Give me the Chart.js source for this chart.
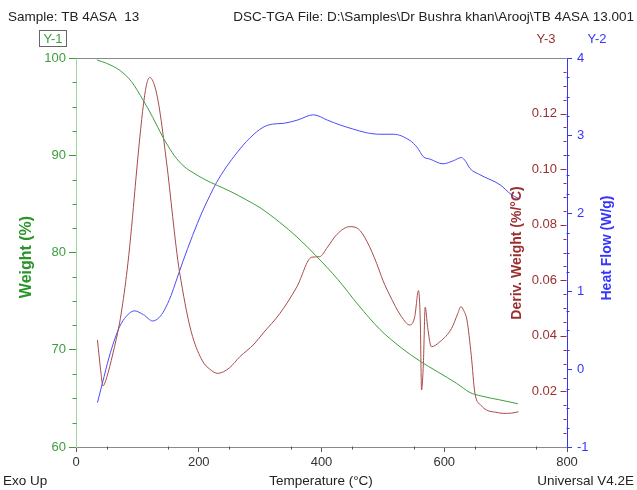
<!DOCTYPE html>
<html>
<head>
<meta charset="utf-8">
<script src="https://cdn.jsdelivr.net/npm/chart.js@4/dist/chart.umd.min.js"></script>
<style>
  html, body { margin: 0; padding: 0; background: #fff; }
  #wrap { width: 637px; height: 490px; }
</style>
</head>
<body>
<div id="wrap"><canvas id="tga" width="637" height="490"></canvas></div>
<script>
// Curva de peso (Y-1)
const weightTemp = [34, 50, 72, 90, 110, 125, 142, 150, 157, 164, 176, 191, 210, 230, 251, 278, 300, 332, 360, 392, 427, 460, 495, 530, 560, 590, 620, 642, 660, 690, 720];
const weightPct  = [99.8, 99.45, 98.7, 97.6, 95.6, 93.9, 91.8, 90.95, 90.25, 89.65, 88.85, 88.2, 87.5, 86.9, 86.3, 85.4, 84.6, 83.1, 81.6, 79.6, 77.2, 74.6, 72.1, 70.2, 68.85, 67.7, 66.55, 65.6, 65.25, 64.85, 64.45];

// Derivada del peso (Y-3)
const derivTemp = [35, 40, 44, 50, 60, 71, 76, 81, 86, 92, 98, 104, 110, 115, 120, 125, 130, 135, 140, 145, 150, 155, 160, 166, 171, 180, 190, 206, 218, 231, 250, 267, 290, 305, 332, 360, 384, 397, 410, 425, 446, 460, 474, 490, 500, 511, 530, 544, 552, 558, 561, 563, 566, 569, 573, 579, 593, 612, 622, 627, 632, 637, 644, 650, 660, 669, 684, 696, 710, 721];
const derivVal  = [0.0385, 0.028, 0.022, 0.025, 0.0335, 0.0446, 0.0515, 0.0595, 0.069, 0.0825, 0.0975, 0.1115, 0.1235, 0.1305, 0.133, 0.1318, 0.1285, 0.123, 0.1155, 0.107, 0.098, 0.088, 0.078, 0.067, 0.060, 0.049, 0.0397, 0.031, 0.028, 0.0265, 0.0285, 0.0325, 0.037, 0.041, 0.048, 0.0577, 0.0683, 0.0685, 0.072, 0.0765, 0.0793, 0.0785, 0.074, 0.066, 0.060, 0.0547, 0.047, 0.0439, 0.047, 0.0563, 0.045, 0.0205, 0.030, 0.0503, 0.043, 0.0361, 0.0379, 0.0427, 0.048, 0.0505, 0.049, 0.0457, 0.033, 0.0193, 0.015, 0.0133, 0.0125, 0.0121, 0.0122, 0.0127];

// Flujo de calor (Y-2)
const heatTemp = [35, 43, 54, 62, 71, 82, 95, 110, 125, 135, 144, 155, 163, 174, 190, 205, 218, 229, 245, 262, 283, 305, 320, 338, 360, 387, 410, 430, 450, 473, 495, 517, 544, 556, 566, 577, 598, 615, 628, 635, 642, 658, 691, 710, 720];
const heatVal  = [-0.43, -0.18, 0.157, 0.36, 0.546, 0.68, 0.75, 0.70, 0.62, 0.66, 0.76, 0.95, 1.13, 1.38, 1.72, 2.01, 2.23, 2.40, 2.60, 2.78, 2.97, 3.11, 3.15, 3.16, 3.20, 3.27, 3.20, 3.14, 3.09, 3.04, 3.02, 3.02, 2.94, 2.85, 2.73, 2.70, 2.64, 2.68, 2.72, 2.67, 2.58, 2.50, 2.37, 2.24, 2.20];

// Etiquetas de los ejes
const tempTicks   = [0, 200, 400, 600, 800];
const weightTicks = [60, 70, 80, 90, 100];
const heatTicks   = [-1, 0, 1, 2, 3, 4];
const derivTicks  = [0.02, 0.04, 0.06, 0.08, 0.10, 0.12];

const FONT = '"Liberation Sans", Arial, sans-serif';
const GREEN = '#3c9f3c';
const RED = '#9b2f2f';
const BLUE = '#3535ff';

function toPoints(xs, ys) {
  return xs.map((t, i) => ({ x: t, y: ys[i] }));
}

// Marcas menores, marco superior y textos sueltos
const extras = {
  id: 'extras',
  afterDraw(chart) {
    const ctx = chart.ctx;
    const { left, right, top, bottom } = chart.chartArea;
    const sx = chart.scales.x, y1 = chart.scales.y1, y2 = chart.scales.y2, y3 = chart.scales.y3;
    const L = Math.round(left) + 0.5, R = Math.round(right) - 0.5, B = Math.round(bottom) - 0.5;

    ctx.save();
    ctx.lineWidth = 1;

    // marco superior
    ctx.strokeStyle = '#8a8a8a';
    ctx.beginPath();
    ctx.moveTo(L, Math.round(top) + 0.5);
    ctx.lineTo(R, Math.round(top) + 0.5);
    ctx.stroke();

    // marcas menores eje x (cada 50)
    ctx.strokeStyle = '#555';
    ctx.beginPath();
    for (let t = 50; t < 800; t += 100) {
      const px = Math.round(sx.getPixelForValue(t)) + 0.5;
      ctx.moveTo(px, B); ctx.lineTo(px, B + 3);
    }
    ctx.stroke();

    // marcas menores Y-1
    ctx.strokeStyle = GREEN;
    ctx.beginPath();
    for (let v = 62.5; v < 100; v += 2.5) {
      if (v % 10 === 0) continue;
      const py = Math.round(y1.getPixelForValue(v)) + 0.5;
      ctx.moveTo(L - 4, py); ctx.lineTo(L, py);
    }
    ctx.stroke();

    // marcas menores Y-2
    ctx.strokeStyle = BLUE;
    ctx.beginPath();
    for (let v = -0.75; v < 4; v += 0.25) {
      if (Math.abs(v - Math.round(v)) < 1e-6) continue;
      const py = Math.round(y2.getPixelForValue(v)) + 0.5;
      ctx.moveTo(R, py); ctx.lineTo(R + 3, py);
    }
    ctx.stroke();

    // marcas Y-3 (hacia dentro)
    ctx.strokeStyle = RED;
    ctx.beginPath();
    for (let k = 1; k < 28; k++) {
      const v = k * 0.005;
      const py = Math.round(y3.getPixelForValue(v)) + 0.5;
      const len = (k % 4 === 0) ? 6 : 3;
      ctx.moveTo(R - len, py); ctx.lineTo(R, py);
    }
    ctx.stroke();

    // encabezado
    ctx.fillStyle = '#222';
    ctx.font = '13.5px ' + FONT;
    ctx.textBaseline = 'middle';
    ctx.textAlign = 'left';
    ctx.fillText('Sample: TB 4ASA  13', 8, 17);
    ctx.textAlign = 'right';
    ctx.fillText('DSC-TGA File: D:\\Samples\\Dr Bushra khan\\Arooj\\TB 4ASA 13.001', 634, 17);

    // pie
    ctx.textAlign = 'left';
    ctx.fillText('Exo Up', 3, 481);
    ctx.textAlign = 'center';
    ctx.fillText('Temperature (°C)', 321, 481);
    ctx.textAlign = 'right';
    ctx.fillText('Universal V4.2E', 634, 481);

    // etiquetas Y-n
    ctx.font = '13px ' + FONT;
    ctx.strokeStyle = '#666';
    ctx.strokeRect(39.5, 30.5, 27, 16);
    ctx.textAlign = 'center';
    ctx.fillStyle = GREEN;
    ctx.fillText('Y-1', 53, 39);
    ctx.fillStyle = RED;
    ctx.fillText('Y-3', 546, 39);
    ctx.fillStyle = BLUE;
    ctx.fillText('Y-2', 597, 39);

    // titulos de ejes (girados)
    const vtitle = (text, x, y, color, size) => {
      ctx.save();
      ctx.translate(x, y);
      ctx.rotate(-Math.PI / 2);
      ctx.fillStyle = color;
      ctx.font = 'bold ' + size + 'px ' + FONT;
      ctx.textAlign = 'center';
      ctx.textBaseline = 'middle';
      ctx.fillText(text, 0, 0);
      ctx.restore();
    };
    vtitle('Weight (%)', 27, 257, '#2a932a', 16);
    vtitle('Deriv. Weight (%/°C)', 517, 253, RED, 14);
    vtitle('Heat Flow (W/g)', 607, 248, BLUE, 14);

    ctx.restore();
  }
};

new Chart(document.getElementById('tga'), {
  type: 'line',
  data: {
    datasets: [
      {
        label: 'Weight',
        data: toPoints(weightTemp, weightPct),
        yAxisID: 'y1',
        borderColor: GREEN,
        borderWidth: 1,
        pointRadius: 0,
        cubicInterpolationMode: 'monotone'
      },
      {
        label: 'Deriv. Weight',
        data: toPoints(derivTemp, derivVal),
        yAxisID: 'y3',
        borderColor: '#a84a4a',
        borderWidth: 1,
        pointRadius: 0,
        cubicInterpolationMode: 'monotone'
      },
      {
        label: 'Heat Flow',
        data: toPoints(heatTemp, heatVal),
        yAxisID: 'y2',
        borderColor: '#4a4aff',
        borderWidth: 1,
        pointRadius: 0,
        cubicInterpolationMode: 'monotone'
      }
    ]
  },
  options: {
    responsive: false,
    animation: false,
    layout: { padding: { top: 58, left: 0, right: 0, bottom: 0 } },
    plugins: { legend: { display: false }, tooltip: { enabled: false } },
    scales: {
      x: {
        type: 'linear',
        position: 'bottom',
        min: 0, max: 800,
        afterBuildTicks: s => { s.ticks = tempTicks.map(v => ({ value: v })); },
        afterFit: s => { s.height = 43; },
        ticks: { color: '#333', font: { family: FONT, size: 13 }, padding: 3, maxRotation: 0, autoSkip: false },
        grid: { drawOnChartArea: false, tickLength: 5, color: '#555' },
        border: { color: '#8a8a8a' }
      },
      y1: {
        position: 'left',
        min: 60, max: 100,
        afterBuildTicks: s => { s.ticks = weightTicks.map(v => ({ value: v })); },
        afterFit: s => { s.width = 76; },
        ticks: { color: GREEN, font: { family: FONT, size: 13 }, padding: 3, autoSkip: false },
        grid: { drawOnChartArea: false, tickLength: 7, color: GREEN },
        border: { color: '#9fd49f' }
      },
      y3: {
        position: 'right',
        weight: 0,
        min: 0, max: 0.14,
        afterBuildTicks: s => { s.ticks = derivTicks.map(v => ({ value: v })); },
        afterFit: s => { s.width = 0; },
        ticks: { mirror: true, padding: -10, color: RED, font: { family: FONT, size: 13 }, autoSkip: false,
                 callback: v => v.toFixed(2) },
        grid: { display: false },
        border: { display: false }
      },
      y2: {
        position: 'right',
        weight: 1,
        min: -1, max: 4,
        afterBuildTicks: s => { s.ticks = heatTicks.map(v => ({ value: v })); },
        afterFit: s => { s.width = 70; },
        ticks: { color: BLUE, font: { family: FONT, size: 13 }, padding: 5, autoSkip: false },
        grid: { drawOnChartArea: false, tickLength: 5, color: BLUE },
        border: { color: BLUE }
      }
    }
  },
  plugins: [extras]
});
</script>
</body>
</html>
